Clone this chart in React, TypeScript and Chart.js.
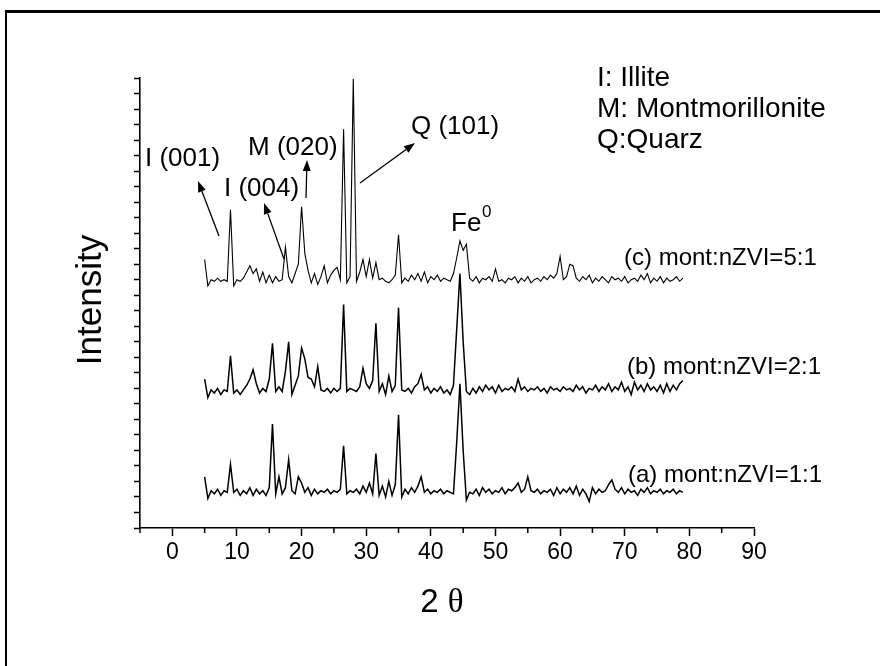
import React, { useEffect, useRef } from "react";
import { Chart, registerables } from "chart.js";

Chart.register(...registerables);

// 2θ scan positions (degrees)
const twoTheta = [
  5, 5.5, 6, 6.5, 7, 7.5, 8, 8.5, 9, 9.5,
  10, 10.5, 11, 11.5, 12, 12.5, 13, 13.5, 14, 14.5,
  15, 15.5, 16, 16.5, 17, 17.5, 18, 18.5, 19, 19.5,
  20, 20.5, 21, 21.5, 22, 22.5, 23, 23.5, 24, 24.5,
  25, 25.5, 26, 26.5, 27, 27.5, 28, 28.5, 29, 29.5,
  30, 30.5, 31, 31.5, 32, 32.5, 33, 33.5, 34, 34.5,
  35, 35.5, 36, 36.5, 37, 37.5, 38, 38.5, 39, 39.5,
  40, 40.5, 41, 41.5, 42, 42.5, 43, 43.5, 44, 44.5,
  45, 45.5, 46, 46.5, 47, 47.5, 48, 48.5, 49, 49.5,
  50, 50.5, 51, 51.5, 52, 52.5, 53, 53.5, 54, 54.5,
  55, 55.5, 56, 56.5, 57, 57.5, 58, 58.5, 59, 59.5,
  60, 60.5, 61, 61.5, 62, 62.5, 63, 63.5, 64, 64.5,
  65, 65.5, 66, 66.5, 67, 67.5, 68, 68.5, 69, 69.5,
  70, 70.5, 71, 71.5, 72, 72.5, 73, 73.5, 74, 74.5,
  75, 75.5, 76, 76.5, 77, 77.5, 78, 78.5, 79,
];

// (c) mont:nZVI=5:1 (offset trace, top)
const seriesC = [
  17.3, 15.6, 16.0, 15.9, 16.1, 15.9, 16.0, 15.9, 20.5, 15.6,
  16.0, 15.9, 16.1, 16.5, 16.9, 16.4, 16.7, 15.9, 16.5, 15.8,
  16.3, 15.8, 16.2, 15.9, 16.0, 18.1, 16.2, 15.8, 16.4, 17.0,
  20.7, 17.7, 16.6, 15.8, 16.4, 15.7, 16.2, 16.9, 15.8, 16.3,
  16.6, 16.8, 16.0, 25.7, 15.8, 16.2, 28.95, 15.9, 16.5, 17.3,
  16.2, 17.3, 16.1, 17.1, 16.0, 16.1, 15.9, 15.8, 16.0, 16.3,
  18.9, 15.8, 16.1, 15.9, 16.3, 16.0, 16.4, 15.9, 16.5, 15.8,
  16.2, 16.0, 16.3, 15.9, 16.1, 16.0, 15.9, 16.4, 17.4, 18.5,
  17.9, 18.3, 16.1, 15.9, 16.2, 15.8, 16.1, 16.0, 16.2, 15.9,
  16.7, 15.9, 16.0, 15.8, 16.1, 16.0, 16.2, 15.8, 16.1, 15.9,
  16.2, 15.8, 16.0, 16.1, 15.9, 16.2, 16.0, 16.3, 16.1, 16.4,
  17.5, 16.0, 16.2, 17.0, 16.9, 16.1, 15.9, 16.2, 16.0, 16.3,
  15.8, 16.1, 15.9, 16.2, 16.0, 15.8, 16.2, 16.0, 16.1, 15.9,
  16.2, 15.8, 16.0, 16.1, 15.9, 16.3, 16.0, 16.4, 15.8, 16.1,
  15.9, 16.2, 15.8, 16.1, 15.9, 16.0, 16.2, 15.9, 16.1,
];

// (b) mont:nZVI=2:1 (offset trace, middle)
const seriesB = [
  9.6, 8.4, 8.9, 8.7, 9.0, 8.6, 8.9, 8.8, 11.1, 8.7,
  8.9, 8.6, 8.9, 9.2, 9.6, 10.2, 9.3, 8.7, 9.0, 8.8,
  9.6, 11.9, 8.8, 9.1, 8.8, 10.1, 12.0, 8.6, 9.2, 9.8,
  11.6, 10.9, 9.7, 9.6, 9.1, 10.4, 8.9, 8.8, 9.0, 8.7,
  9.0, 8.8, 9.0, 14.4, 8.8, 9.0, 8.9, 8.8, 9.1, 10.3,
  9.3, 9.0, 9.5, 13.2, 8.8, 9.3, 8.6, 9.8, 8.8, 9.2,
  14.2, 8.9, 8.8, 9.0, 8.7, 9.1, 9.3, 9.9, 8.9, 9.1,
  8.7, 9.0, 8.8, 9.1, 8.7, 8.9, 8.6, 9.2, 12.8, 16.4,
  12.0, 8.8, 8.6, 9.0, 8.7, 9.1, 8.8, 9.2, 8.9, 9.1,
  8.7, 9.2, 8.8, 9.0, 8.9, 9.1, 8.8, 9.6, 8.9, 9.1,
  8.8, 9.0, 8.9, 9.1, 8.8, 9.0, 8.7, 9.1, 8.9, 9.0,
  8.8, 9.1, 8.9, 9.0, 8.8, 9.2, 8.9, 9.1, 8.7, 9.0,
  8.9, 9.2, 8.8, 9.1, 8.9, 9.3, 8.8, 9.1, 8.9, 9.4,
  8.8, 9.1, 8.6, 9.4, 8.9, 9.2, 8.8, 9.3, 8.9, 9.1,
  8.8, 9.2, 8.7, 9.3, 8.8, 9.2, 8.9, 9.3, 9.5,
];

// (a) mont:nZVI=1:1 (offset trace, bottom)
const seriesA = [
  3.3, 1.9, 2.4, 2.2, 2.5, 2.1, 2.4, 2.3, 4.1, 2.3,
  2.5, 2.1, 2.4, 2.2, 2.6, 2.1, 2.5, 2.2, 2.4, 2.1,
  2.6, 6.7, 2.2, 3.3, 2.2, 2.6, 4.4, 2.4, 2.2, 3.3,
  2.9, 2.3, 2.6, 2.1, 2.5, 2.2, 2.4, 2.3, 2.5, 2.2,
  2.4, 2.3, 2.5, 5.3, 2.2, 2.4, 2.3, 2.5, 2.2, 2.7,
  2.3, 2.9, 2.2, 4.8, 2.1, 2.7, 2.0, 3.0, 2.1, 2.8,
  7.3, 2.0, 2.5, 2.2, 2.6, 2.3, 2.7, 3.3, 2.3, 2.5,
  2.2, 2.4, 2.3, 2.5, 2.2, 2.4, 2.3, 2.2, 5.5, 9.3,
  5.0, 1.8, 2.3, 2.2, 2.5, 2.1, 2.6, 2.3, 2.5, 2.2,
  2.4, 2.3, 2.6, 2.2, 2.5, 2.4, 2.6, 2.9, 2.3, 2.5,
  3.3, 2.4, 2.3, 2.5, 2.2, 2.4, 2.3, 2.5, 2.1, 2.6,
  2.2, 2.5, 2.3, 2.6, 2.2, 2.7, 2.1, 2.5, 2.2, 1.7,
  2.6, 2.2, 2.5, 2.3, 2.4, 2.8, 3.1, 2.5, 2.3, 2.6,
  2.2, 2.5, 2.3, 2.4, 2.1, 2.5, 2.3, 2.6, 2.2, 2.4,
  2.3, 2.5, 2.2, 2.4, 2.3, 2.5, 2.2, 2.4, 2.3,
];

const xMajorTicks = [0, 10, 20, 30, 40, 50, 60, 70, 80, 90];
const xMinorTicks = [-5, 5, 15, 25, 35, 45, 55, 65, 75, 85];
const xRange = [-5, 90];
const yRange = [0, 29];

const legendLines = ["I: Illite", "M: Montmorillonite", "Q:Quarz"];
const sampleLabels = ["(c) mont:nZVI=5:1", "(b) mont:nZVI=2:1", "(a) mont:nZVI=1:1"];

const SANS = "'Liberation Sans', Arial, Helvetica, sans-serif";
const SERIF = "'Liberation Serif', 'Times New Roman', serif";

function arrow(ctx: CanvasRenderingContext2D, x1: number, y1: number, x2: number, y2: number) {
  const ang = Math.atan2(y2 - y1, x2 - x1);
  const hl = 11;
  const hw = 4;
  const bx = x2 - hl * Math.cos(ang);
  const by = y2 - hl * Math.sin(ang);
  ctx.beginPath();
  ctx.moveTo(x1, y1);
  ctx.lineTo(bx, by);
  ctx.stroke();
  ctx.beginPath();
  ctx.moveTo(x2, y2);
  ctx.lineTo(bx + hw * Math.sin(ang), by - hw * Math.cos(ang));
  ctx.lineTo(bx - hw * Math.sin(ang), by + hw * Math.cos(ang));
  ctx.closePath();
  ctx.fill();
}

const decorPlugin = {
  id: "xrdDecor",
  afterDraw(chart: any) {
    const ctx: CanvasRenderingContext2D = chart.ctx;
    const xs = chart.scales.x;
    const ys = chart.scales.y;
    ctx.save();
    ctx.fillStyle = "#000";
    ctx.strokeStyle = "#000";

    // outer frame (top and left edges)
    ctx.fillRect(5, 10, 875, 3);
    ctx.fillRect(5, 10, 2, 656);

    // minor x ticks
    ctx.lineWidth = 1.5;
    for (const v of xMinorTicks) {
      const px = xs.getPixelForValue(v);
      ctx.beginPath();
      ctx.moveTo(px, ys.bottom);
      ctx.lineTo(px, ys.bottom + 5);
      ctx.stroke();
    }

    // axis titles
    ctx.textBaseline = "alphabetic";
    ctx.save();
    ctx.translate(101, 300);
    ctx.rotate(-Math.PI / 2);
    ctx.textAlign = "center";
    ctx.font = `35px ${SANS}`;
    ctx.fillText("Intensity", 0, 0);
    ctx.restore();

    ctx.textAlign = "left";
    ctx.font = `33px ${SANS}`;
    const two = "2 ";
    const w2 = ctx.measureText(two).width;
    ctx.font = `33px ${SERIF}`;
    const wt = ctx.measureText("\u03b8").width;
    const startX = 442 - (w2 + wt) / 2;
    ctx.font = `33px ${SANS}`;
    ctx.fillText(two, startX, 612);
    ctx.font = `33px ${SERIF}`;
    ctx.fillText("\u03b8", startX + w2, 612);

    // legend text
    ctx.font = `28px ${SANS}`;
    const legendBaselines = [86, 117, 148];
    legendLines.forEach((t, i) => ctx.fillText(t, 597, legendBaselines[i]));

    // peak annotations
    ctx.font = `26px ${SANS}`;
    ctx.fillText("I (001)", 145, 166);
    ctx.fillText("I (004)", 224, 196);
    ctx.fillText("M (020)", 248, 155);
    ctx.fillText("Q (101)", 411, 134);
    ctx.fillText("Fe", 451, 231);
    ctx.font = `17px ${SANS}`;
    ctx.fillText("0", 482, 217);

    // sample labels
    ctx.font = `24px ${SANS}`;
    const sampleX = [624, 627, 628];
    const sampleY = [265, 374, 482];
    sampleLabels.forEach((t, i) => ctx.fillText(t, sampleX[i], sampleY[i]));

    // arrows
    ctx.lineWidth = 1.3;
    arrow(ctx, 219, 236, 198, 181);
    arrow(ctx, 284, 259, 264, 203);
    arrow(ctx, 306, 198, 307, 160);
    arrow(ctx, 360, 183, 415, 143);

    ctx.restore();
  },
};

export default function App() {
  const ref = useRef<HTMLCanvasElement | null>(null);

  useEffect(() => {
    if (!ref.current) return;
    const mk = (ys: number[]) => twoTheta.map((x, i) => ({ x, y: ys[i] }));
    const chart = new Chart(ref.current, {
      type: "line",
      data: {
        datasets: [
          { label: sampleLabels[0], data: mk(seriesC), borderColor: "#000", borderWidth: 1.1, pointRadius: 0, tension: 0, clip: false as any },
          { label: sampleLabels[1], data: mk(seriesB), borderColor: "#000", borderWidth: 1.5, pointRadius: 0, tension: 0, clip: false as any },
          { label: sampleLabels[2], data: mk(seriesA), borderColor: "#000", borderWidth: 1.5, pointRadius: 0, tension: 0, clip: false as any },
        ],
      },
      options: {
        animation: false,
        responsive: false,
        devicePixelRatio: 1,
        layout: { padding: { left: 0, top: 78, right: 126, bottom: 0 } },
        plugins: { legend: { display: false }, title: { display: false }, tooltip: { enabled: false } },
        events: [],
        scales: {
          x: {
            type: "linear",
            min: xRange[0],
            max: xRange[1],
            afterBuildTicks: (s: any) => {
              s.ticks = xMajorTicks.map((v) => ({ value: v }));
            },
            afterFit: (s: any) => {
              s.height = 138;
            },
            ticks: {
              color: "#000",
              font: { family: SANS, size: 23 },
              padding: 3,
              maxRotation: 0,
              autoSkip: false,
            },
            grid: { drawOnChartArea: false, drawTicks: true, tickLength: 8, tickWidth: 1.5, tickColor: "#000" },
            border: { display: true, color: "#000", width: 1.6 },
          },
          y: {
            type: "linear",
            min: yRange[0],
            max: yRange[1],
            ticks: { display: false, stepSize: 1 },
            afterFit: (s: any) => {
              s.width = 140;
            },
            grid: { drawOnChartArea: false, drawTicks: true, tickLength: 6, tickWidth: 1.5, tickColor: "#000" },
            border: { display: true, color: "#000", width: 1.6 },
          },
        },
      },
      plugins: [decorPlugin],
    });
    return () => chart.destroy();
  }, []);

  return (
    <div style={{ position: "absolute", left: 0, top: 0, width: 880, height: 666, background: "#fff" }}>
      <canvas ref={ref} width={880} height={666} style={{ display: "block", width: 880, height: 666 }} />
    </div>
  );
}
